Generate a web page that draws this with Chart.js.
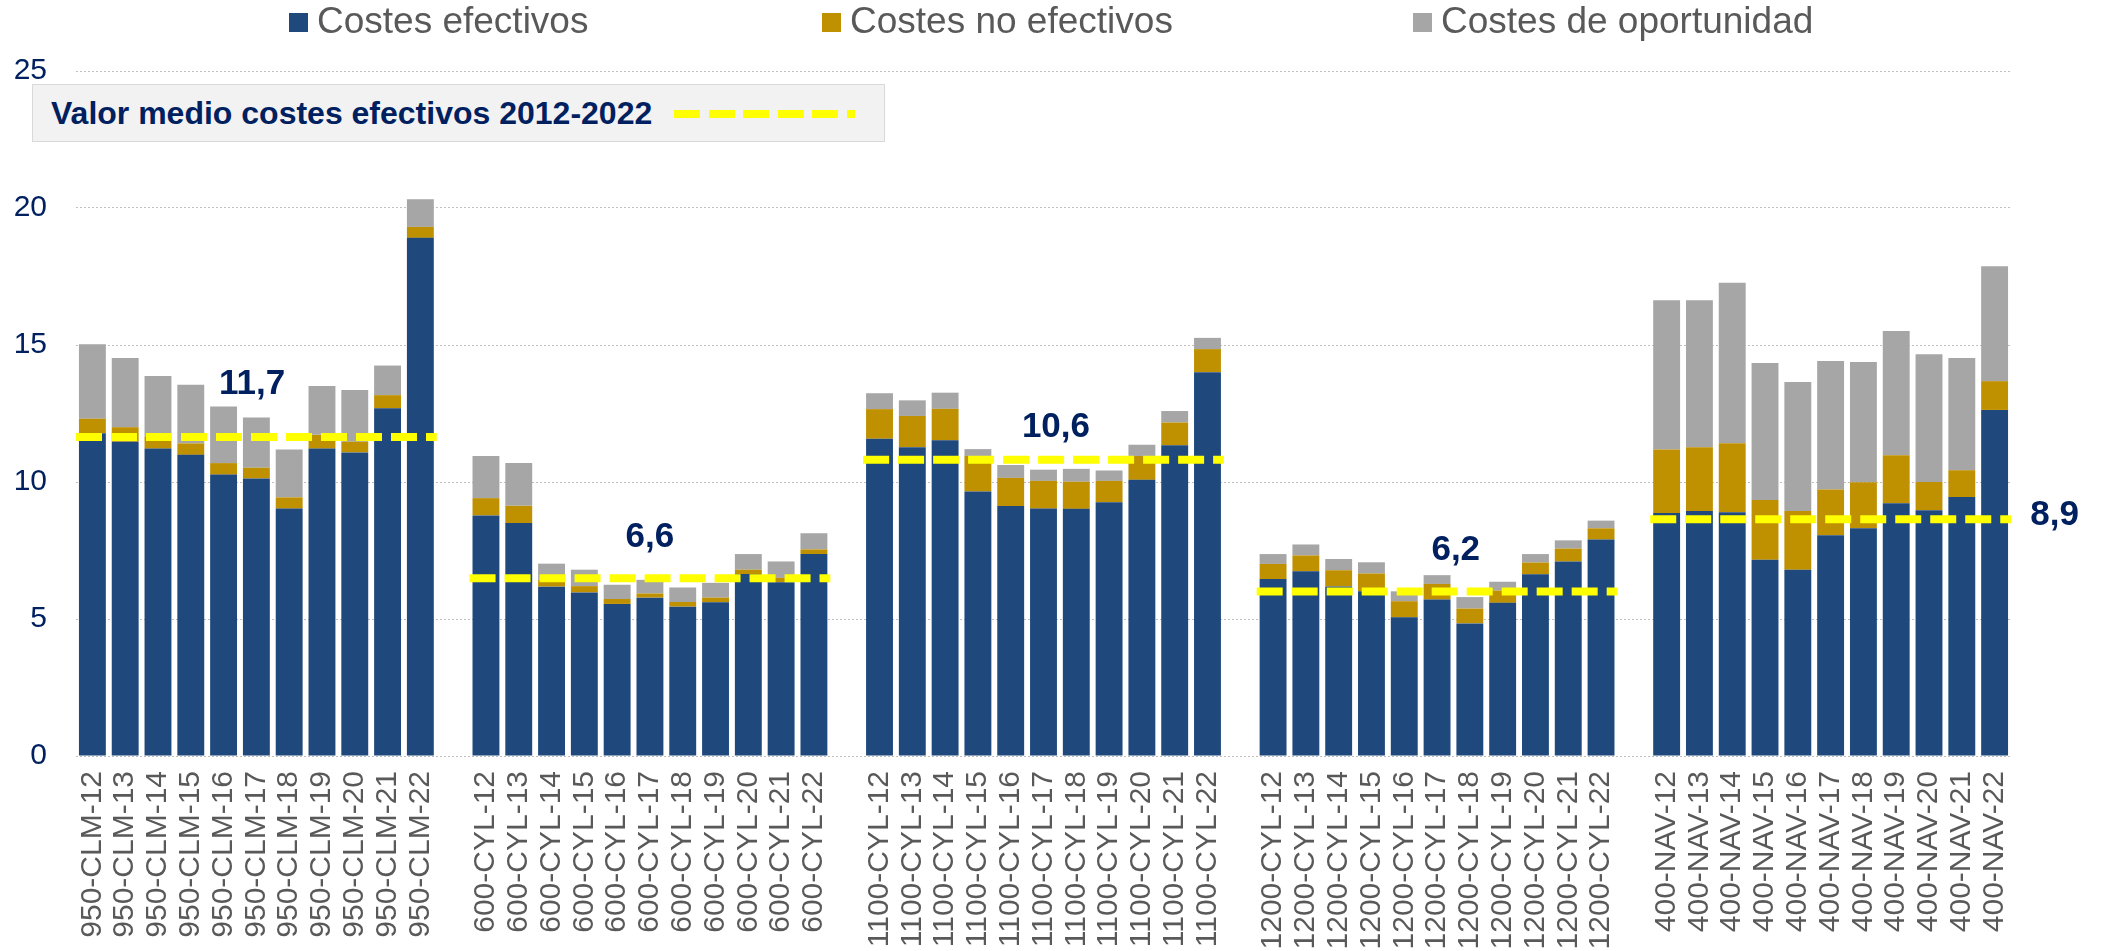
<!DOCTYPE html>
<html lang="es">
<head>
<meta charset="utf-8">
<title>Costes por explotación</title>
<script src="https://cdn.jsdelivr.net/npm/chart.js@4.4.1/dist/chart.umd.min.js"></script>
<style>
  html, body { margin: 0; padding: 0; background: #fff; }
  #contenedor { position: relative; width: 2102px; height: 951px; font-family: "Liberation Sans", Arial, sans-serif; }
  #grafica { position: absolute; left: 0; top: 0; }
  .leyenda-item { position: absolute; top: 2px; font-size: 37px; line-height: 37px; color: #595959; white-space: nowrap; }
  .leyenda-item span.caja { display: inline-block; width: 19px; height: 19px; margin-right: 9px; vertical-align: 1px; }
  #caja-media { position: absolute; left: 32px; top: 84px; width: 851px; height: 56px; background: #f2f2f2; border: 1px solid #d9d9d9; }
  #caja-media .texto { position: absolute; left: 18px; top: 11px; font-size: 32px; line-height: 34px; font-weight: bold; color: #002060; white-space: nowrap; }
  #caja-media .raya { position: absolute; left: 641px; top: 25px; width: 181px; height: 8px;
    background: repeating-linear-gradient(to right, #ffff00 0 26px, transparent 26px 34.6px); }
</style>
</head>
<body>
<div id="contenedor">
  <canvas id="grafica" width="2102" height="951"></canvas>
  <div class="leyenda-item" style="left:289px"><span class="caja" style="background:#1f497d"></span>Costes efectivos</div>
  <div class="leyenda-item" style="left:822px"><span class="caja" style="background:#bf9000"></span>Costes no efectivos</div>
  <div class="leyenda-item" style="left:1413px"><span class="caja" style="background:#a6a6a6"></span>Costes de oportunidad</div>
  <div id="caja-media"><div class="texto">Valor medio costes efectivos 2012-2022</div><div class="raya"></div></div>
</div>
<script>
// explotaciones y años (un hueco vacío entre grupos)
const grupos = ['950-CLM', '600-CYL', '1100-CYL', '1200-CYL', '400-NAV'];
const anios = ['12', '13', '14', '15', '16', '17', '18', '19', '20', '21', '22'];

// valores, un bloque de 11 años por grupo
const costesEfectivos = [
  11.78, 11.47, 11.22, 10.99, 10.27, 10.13, 9.03, 11.22, 11.08, 12.69, 18.91,
  8.78, 8.50, 6.18, 5.97, 5.55, 5.78, 5.45, 5.61, 6.64, 6.34, 7.37,
  11.58, 11.27, 11.52, 9.65, 9.12, 9.03, 9.02, 9.26, 10.08, 11.34, 14.01,
  6.46, 6.74, 6.19, 6.01, 5.06, 5.71, 4.84, 5.59, 6.63, 7.10, 7.90,
  8.87, 8.94, 8.90, 7.16, 6.80, 8.06, 8.31, 9.22, 8.97, 9.45, 12.63
];
const costesNoEfectivos = [
  0.53, 0.53, 0.44, 0.42, 0.42, 0.39, 0.41, 0.50, 0.39, 0.48, 0.40,
  0.63, 0.63, 0.24, 0.23, 0.18, 0.15, 0.17, 0.17, 0.16, 0.16, 0.17,
  1.08, 1.14, 1.15, 1.30, 1.03, 1.01, 0.99, 0.78, 0.87, 0.83, 0.84,
  0.55, 0.58, 0.59, 0.65, 0.59, 0.57, 0.54, 0.45, 0.43, 0.47, 0.41,
  2.32, 2.33, 2.51, 2.18, 2.14, 1.67, 1.68, 1.76, 1.03, 0.98, 1.05
];
const costesOportunidad = [
  2.72, 2.53, 2.21, 2.14, 2.07, 1.83, 1.75, 1.78, 1.89, 1.08, 1.01,
  1.54, 1.56, 0.60, 0.60, 0.52, 0.50, 0.53, 0.54, 0.57, 0.60, 0.59,
  0.58, 0.57, 0.59, 0.25, 0.47, 0.41, 0.47, 0.38, 0.41, 0.42, 0.41,
  0.36, 0.40, 0.41, 0.41, 0.36, 0.32, 0.42, 0.32, 0.31, 0.30, 0.28,
  5.44, 5.36, 5.86, 5.00, 4.71, 4.69, 4.39, 4.53, 4.66, 4.10, 4.19
];

// valor medio de costes efectivos 2012-2022 por grupo (posición de la línea y etiqueta)
const valorMedio = [11.64, 6.49, 10.81, 6.0, 8.64];
const etiquetaMedio = ['11,7', '6,6', '10,6', '6,2', '8,9'];

const yTicks = [0, 5, 10, 15, 20, 25];

// montar categorías con huecos
const categorias = [];
const serieEfectivos = [], serieNoEfectivos = [], serieOportunidad = [];
grupos.forEach((g, gi) => {
    if (gi > 0) {
        categorias.push('');
        serieEfectivos.push(null);
        serieNoEfectivos.push(null);
        serieOportunidad.push(null);
    }
    anios.forEach((a, ai) => {
        const k = gi * anios.length + ai;
        categorias.push(g + '-' + a);
        serieEfectivos.push(costesEfectivos[k]);
        serieNoEfectivos.push(costesNoEfectivos[k]);
        serieOportunidad.push(costesOportunidad[k]);
    });
});

// línea de la media: desde el borde izquierdo del primer año hasta el borde derecho del último
const paso = anios.length + 1;
const puntosMedia = [];
grupos.forEach((g, gi) => {
    const inicio = gi * paso;
    puntosMedia.push({ x: inicio - 0.5, y: valorMedio[gi] });
    puntosMedia.push({ x: inicio + anios.length - 0.5, y: valorMedio[gi] });
    puntosMedia.push({ x: inicio + anios.length, y: null });
});

// sitio de las etiquetas de la media (en coordenadas de datos)
const sitioEtiquetas = [
    { x: 4.87, y: 13.57 },
    { x: 17.0, y: 7.98 },
    { x: 29.38, y: 11.99 },
    { x: 41.57, y: 7.5 },
    { x: 59.83, y: 8.78 }
];

const etiquetasPlugin = {
    id: 'etiquetasMedia',
    afterDatasetsDraw(chart) {
        const ctx = chart.ctx;
        const xs = chart.scales.xLin;
        const ys = chart.scales.y;
        ctx.save();
        ctx.font = 'bold 35px "Liberation Sans", Arial, sans-serif';
        ctx.fillStyle = '#002060';
        ctx.textAlign = 'center';
        ctx.textBaseline = 'middle';
        etiquetaMedio.forEach((t, i) => {
            ctx.fillText(t, xs.getPixelForValue(sitioEtiquetas[i].x), ys.getPixelForValue(sitioEtiquetas[i].y));
        });
        ctx.restore();
    }
};

const ctx = document.getElementById('grafica').getContext('2d');
new Chart(ctx, {
    type: 'bar',
    data: {
        labels: categorias,
        datasets: [
            {
                type: 'line',
                label: 'Valor medio costes efectivos 2012-2022',
                data: puntosMedia,
                xAxisID: 'xLin',
                borderColor: '#ffff00',
                borderWidth: 8,
                borderDash: [26, 9],
                borderCapStyle: 'butt',
                pointRadius: 0,
                spanGaps: false,
                fill: false,
                order: 0
            },
            { label: 'Costes efectivos', data: serieEfectivos, backgroundColor: '#1f497d', stack: 'c', grouped: false, order: 1 },
            { label: 'Costes no efectivos', data: serieNoEfectivos, backgroundColor: '#bf9000', stack: 'c', grouped: false, order: 1 },
            { label: 'Costes de oportunidad', data: serieOportunidad, backgroundColor: '#a6a6a6', stack: 'c', grouped: false, order: 1 }
        ]
    },
    options: {
        responsive: false,
        animation: false,
        devicePixelRatio: 1,
        layout: { padding: { top: 71, right: 91, left: 0, bottom: 0 } },
        datasets: {
            bar: { categoryPercentage: 1.0, barPercentage: 0.82 }
        },
        plugins: {
            legend: { display: false },
            tooltip: { enabled: false }
        },
        scales: {
            x: {
                stacked: true,
                grid: { display: false, drawTicks: false },
                border: { display: false },
                ticks: {
                    autoSkip: false,
                    minRotation: 90,
                    maxRotation: 90,
                    padding: 15,
                    color: '#595959',
                    font: { family: '"Liberation Sans", Arial, sans-serif', size: 30 }
                },
                afterFit(scale) { scale.height = 195; }
            },
            xLin: {
                type: 'linear',
                display: false,
                offset: false,
                grid: { offset: false },
                bounds: 'data',
                min: -0.5,
                max: categorias.length - 0.5
            },
            y: {
                stacked: true,
                min: 0,
                max: 25,
                afterBuildTicks(scale) { scale.ticks = yTicks.map(v => ({ value: v })); },
                grid: { color: '#bfbfbf', lineWidth: 1, drawTicks: false },
                border: { display: false, dash: [2, 2] },
                ticks: {
                    padding: 29,
                    color: '#002060',
                    font: { family: '"Liberation Sans", Arial, sans-serif', size: 30 }
                },
                afterFit(scale) { scale.width = 76; }
            }
        }
    },
    plugins: [etiquetasPlugin]
});
</script>
</body>
</html>
